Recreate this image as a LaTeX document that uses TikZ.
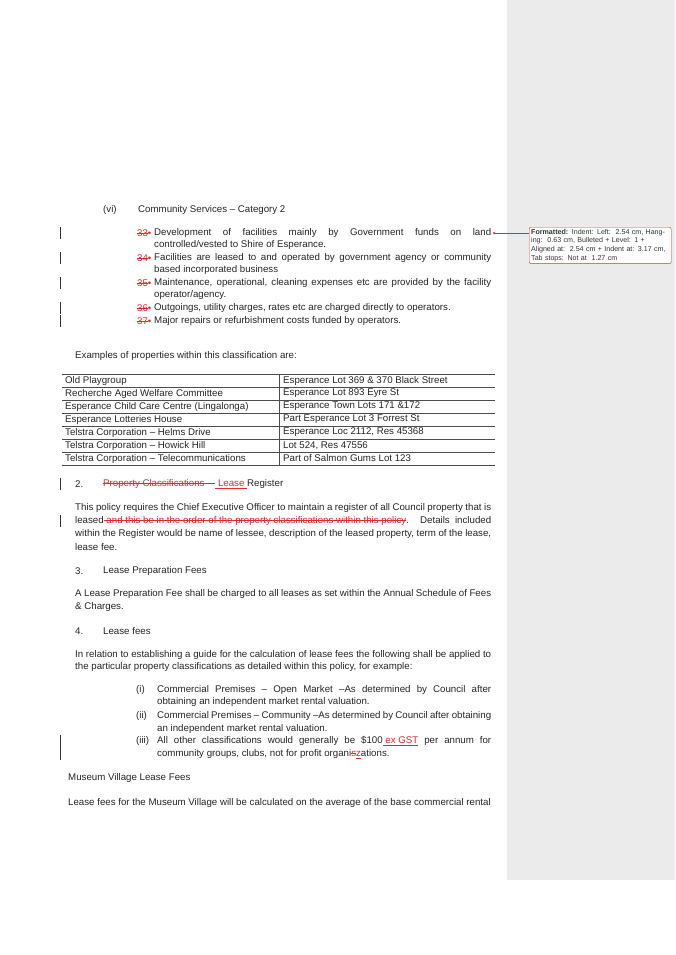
\documentclass[tikz,border=0pt]{standalone}
\usepackage{fontspec}
\setmainfont{Liberation Sans}
\definecolor{rev}{RGB}{230,40,40}
\newcommand{\jl}[2]{\hbox to #1pt{#2}}
\newcommand{\dl}[1]{{\color{rev}\setbox0\hbox{#1}\rlap{\rule[0.3em]{\wd0}{0.45pt}}\box0}}
\newcommand{\ins}[1]{{\color{rev}\setbox0\hbox{#1}\rlap{\rule[-0.22em]{\wd0}{0.45pt}}\box0}}
\begin{document}
\begin{tikzpicture}[x=1pt,y=-1pt,
  t/.style={anchor=west,inner sep=0pt,font=\fontsize{9.7}{11}\selectfont,text=black!85},
  bar/.style={draw=black!80,line width=0.6pt}]
\useasboundingbox (0,0) rectangle (675,955);
\fill[white] (0,0) rectangle (675,955);
\fill[black!8] (507,0) rectangle (675,880);
% comment
\node[draw=rev,rounded corners=2pt,fill=white,anchor=north west,inner sep=2pt,text width=138pt,align=left,font=\fontsize{7.1}{8.6}\selectfont,text=black!80] (cm) at (529,227) {\textbf{Formatted:} Indent: Left:\ \ 2.54 cm, Hanging:\ \ 0.63 cm, Bulleted + Level: 1 + Aligned at:\ \ 2.54 cm + Indent at: 3.17 cm, Tab stops: Not at\ \ 1.27 cm};
\coordinate (dot) at (494,233);
\fill[rev] (dot) circle (1.2);
\draw[rev,line width=0.5pt] (dot) -- (529,233);
% heading vi
\node[t] (vi) at (103,210) {(vi)};
\node[t] (cs) at (138,210) {Community Services – Category 2};
\foreach \y/\n in {233/33,258/34,283/35,308/36,321/37}{\node[t] at (137,\y) {\dl{\n}{\color{rev}•}};}
\node[t] (a1) at (154,233) {\jl{337}{Development of facilities mainly by Government funds on land}};
\node[t] at (154,245) {controlled/vested to Shire of Esperance.};
\node[t] at (154,258) {\jl{337}{Facilities are leased to and operated by government agency or community}};
\node[t] at (154,270) {based incorporated business};
\node[t] at (154,283) {\jl{337}{Maintenance, operational, cleaning expenses etc are provided by the facility}};
\node[t] at (154,295) {operator/agency.};
\node[t] at (154,308) {Outgoings, utility charges, rates etc are charged directly to operators.};
\node[t] at (154,321) {Major repairs or refurbishment costs funded by operators.};
\foreach \a/\b in {227/239,252/264,277/289,302/314,315/327,478/490,515/527,735/760}{\draw[bar] (60,\a) -- (60,\b);}
\node[t] at (75,356) {Examples of properties within this classification are:};
% table
\foreach \i in {0,...,7}{\draw[black!70,line width=0.5pt] (62,{374+13*\i}) -- (495,{374+13*\i});}
\draw[black!70,line width=0.5pt] (279,374) -- (279,465);
\foreach \i/\l/\r in {0/Old Playgroup/Esperance Lot 369 \& 370 Black Street,
1/Recherche Aged Welfare Committee/Esperance Lot 893  Eyre St,
2/Esperance Child Care Centre (Lingalonga)/Esperance Town Lots 171 \&172,
3/Esperance Lotteries House/Part Esperance Lot 3 Forrest St,
4/Telstra Corporation – Helms Drive/Esperance Loc 2112{,} Res 45368,
5/Telstra Corporation – Howick Hill/Lot 524{,} Res 47556,
6/Telstra Corporation – Telecommunications/Part of Salmon Gums Lot 123}{
 \node[t] at (65,{380.5+13*\i}) {\l};
 \node[t] at (283,{380.5+13*\i}) {\r};}
% section 2
\node[t] at (75,484) {2.};
\node[t] at (103,484) {\dl{Property Classifications – }\ins{ Lease }Register};
\node[t] at (75,508) {\jl{416}{This policy requires the Chief Executive Officer to maintain a register of all Council property that is}};
\node[t] at (75,521) {\jl{416}{leased\dl{ and this be in the order of the property classifications within this policy}. Details included}};
\node[t] at (75,534) {\jl{416}{within the Register would be name of lessee, description of the leased property, term of the lease,}};
\node[t] at (75,547) {lease fee.};
\node[t] at (75,571) {3.};
\node[t] at (103,571) {Lease Preparation Fees};
\node[t] at (75,594) {\jl{416}{A Lease Preparation Fee shall be charged to all leases as set within the Annual Schedule of Fees}};
\node[t] at (75,607) {\& Charges.};
\node[t] at (75,631) {4.};
\node[t] at (103,631) {Lease fees};
\node[t] at (75,655) {\jl{416}{In relation to establishing a guide for the calculation of lease fees the following shall be applied to}};
\node[t] at (75,667) {the particular property classifications as detailed within this policy, for example:};
\node[t] at (136,690) {(i)};
\node[t] at (157,690) {\jl{334}{Commercial Premises – Open Market –As determined by Council after}};
\node[t] at (157,702) {obtaining an independent market rental valuation.};
\node[t] at (136,716) {(ii)};
\node[t] at (157,716) {\jl{334}{Commercial Premises – Community –As determined by Council after obtaining}};
\node[t] at (157,729) {an independent market rental valuation.};
\node[t] at (136,741) {(iii)};
\node[t] at (157,741) {\jl{334}{All other classifications would generally be \$100\ins{ ex GST} per annum for}};
\node[t] at (157,754) {community groups, clubs, not for profit organi\dl{s}\ins{z}ations.};
\node[t] at (68,778) {Museum Village Lease Fees};
\node[t] at (68,803) {Lease fees for the Museum Village will be calculated on the average of the base commercial rental};
\end{tikzpicture}
\end{document}
